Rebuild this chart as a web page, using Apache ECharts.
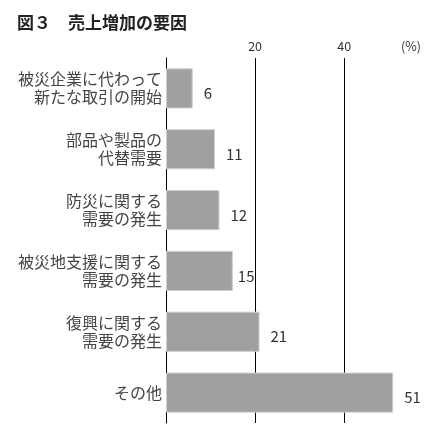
<!DOCTYPE html>
<html><head><meta charset="utf-8">
<script src="https://cdn.jsdelivr.net/npm/echarts@6/dist/echarts.min.js"></script>
<style>html,body{margin:0;padding:0;background:#fff}#c{width:435px;height:443px}</style>
</head><body><div id="c"></div>
<script>
var titleText = '図３　売上増加の要因';
var categories = ['被災企業に代わって\n新たな取引の開始','部品や製品の\n代替需要','防災に関する\n需要の発生','被災地支援に関する\n需要の発生','復興に関する\n需要の発生','その他'];
var values = [6, 11, 12, 15, 21, 51];
var axisMax = 55;
var unitLabel = '(%)';
var font = '"Noto Sans CJK JP", sans-serif';
var chart = echarts.init(document.getElementById('c'));
chart.setOption({
  animation: false,
  title: {text: titleText, left: 12, top: 9, textStyle: {fontFamily: font, fontSize: 17, fontWeight: 'bold', color: '#222'}},
  grid: {left: 166, right: 24, top: 58, bottom: 20},
  xAxis: {type: 'value', position: 'top', min: 0, max: axisMax, interval: 20,
    axisLine: {show: false}, axisTick: {show: false},
    axisLabel: {margin: 5, fontFamily: font, fontSize: 12.5, color: '#333',
      formatter: function(v){ return v === 0 ? '' : (v === axisMax ? unitLabel : String(v)); }},
    splitLine: {show: true, lineStyle: {color: ['#000','#000','#000','rgba(0,0,0,0)'], width: 1}}
  },
  yAxis: {type: 'category', data: categories, inverse: true,
    axisLine: {show: true, lineStyle: {color: '#000', width: 1}}, axisTick: {show: false},
    axisLabel: {margin: 4, fontFamily: font, fontSize: 16, lineHeight: 18, color: '#444', align: 'right'}
  },
  series: [{type: 'bar', barWidth: '66%',
    data: values.map(function(v){ return v === 15 ? {value: v, label: {distance: 5}} : v; }),
    itemStyle: {color: '#a0a0a0', borderColor: '#cfcfcf', borderWidth: 1},
    label: {show: true, position: 'right', distance: 11, offset: [0, 5], fontFamily: font, fontSize: 15, color: '#333'}
  }]
});
</script></body></html>
